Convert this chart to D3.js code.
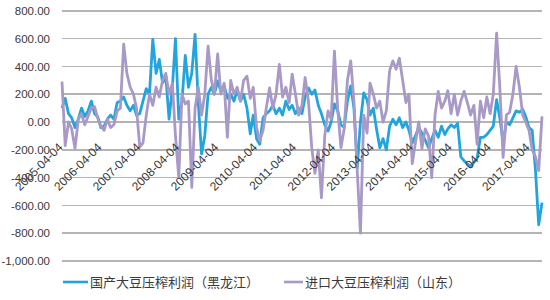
<!DOCTYPE html>
<meta charset="utf-8">
<head>
	<script src="https://d3js.org/d3.v7.min.js"></script>
	<style>
		body {
			margin: 0;
			background: #fff;
		}
		svg text {
			font-family: "Liberation Sans", Arial, "Noto Sans CJK SC", sans-serif;
		}
		.grid line {
			stroke: #b4b4b4;
			stroke-width: 1.5;
			shape-rendering: crispEdges;
		}
	</style>
</head>

<body>
	<div id="chart"></div>
</body>

<script type="text/javascript">
	// monthly points, first one at 2005-04-04
	var firstDate = "2005-04-04";

	var domestic = [
		100, 170, 60, 30, -40, 20, 100, 40, 80, 150, 60, 40,
		-40, -30, 20, 50, 20, 140, 150, 180, 120, 80, 120, 50,
		60, 150, 240, 200, 595, 350, 450, 280, 330, 20, 250, 600,
		20, 150, 480, 250, 350, 630, 140, -230, -100, 200, 250, 200,
		295, 220, 260, 170, 200, 150, 230, 150, 200, 100, -85, 50,
		-120, -160, 30, 60, 80, 120, 60, 100, 50, 150, 90, 120,
		60, 100, 60, 180, 245, 200, 230, 120, 60, -20, -65, 0,
		130, 80, -20, -40, 150, 260, 100, -330, 0, 210, 160, 50,
		100, -50, -185, -120, -200, -30, 20, -20, 30, -40, 0, -60,
		-150, -100, -40, -80, -130, -185, -120, -60, -110, -30, -90, -50,
		-20, -40, -10, -250, -280, -300, -320, -290, -260, -110, -110, -90,
		-60, -30, 160, 30, -150, 0, -20, 30, 80, 70, 90, 40,
		-40, -60, -350, -740, -580
	];

	var imported = [
		290, -170, 0, -50, -190, 20, 60, -20, 40, 100, 110, 30,
		-30, -60, 20, -40, -20, 80, 100, 560, 350, 250, 200, 100,
		-180, -150, 50, 200, 120, 250, 180, 300, 350, 200, 280, -100,
		-400, 200, 130, 150, -470, 100, 250, 50, 200, 545, 300, 200,
		490, 200, 280, -110, 300, 200, 250, 150, 300, 330, 170, 250,
		-40, -135, -60, 100, 245, 100, 200, 415, 180, 250, 140, 345,
		200, 50, 120, 320, 150, -185, -370, -200, -545, -100, 80, 20,
		510, 100, -185, -50, 300, 440, 150, -350, -800, 50, -80, 280,
		200, 100, 150, 0, 80, 370, 440, 380, 460, 300, 140, 200,
		-300, -150, 0, -190, -50, -100, -400, 50, 220, 100, 150, 225,
		60, 200, 50, 150, 220, 140, 50, 120, -160, 150, 30, 180,
		60, 200, 640, 250, -255, 50, 70, 200, 400, 250, 50, 0,
		-60, -200, -250, -350, 40
	];

	var seriesNames = ["国产大豆压榨利润（黑龙江）", "进口大豆压榨利润（山东）"];
	var seriesColors = ["#22a5dc", "#a899c7"];

	var yTicks = [-1000, -800, -600, -400, -200, 0, 200, 400, 600, 800];
	var tickDates = ["2005-04-04", "2006-04-04", "2007-04-04", "2008-04-04", "2009-04-04",
		"2010-04-04", "2011-04-04", "2012-04-04", "2013-04-04", "2014-04-04",
		"2015-04-04", "2016-04-04", "2017-04-04"];

	var width = 550,
		height = 300,
		plotLeft = 62,
		plotRight = 542,
		plotTop = 10.8,
		plotBottom = 261;

	var parse = d3.timeParse("%Y-%m-%d");
	var start = parse(firstDate);
	var dates = domestic.map(function(d, i) { return d3.timeMonth.offset(start, i); });

	var xScale = d3.scaleTime()
		.domain([dates[0], dates[dates.length - 1]])
		.range([plotLeft, plotRight]);

	var yScale = d3.scaleLinear()
		.domain([-1000, 800])
		.range([plotBottom, plotTop]);

	var fmt = d3.formatLocale({decimal: ".", thousands: ",", grouping: [3], currency: ["", ""], minus: "-"}).format(",.2f");

	var svg = d3.select("#chart").append("svg")
		.attr("width", width)
		.attr("height", height);

	// gridlines
	svg.append("g")
		.attr("class", "grid")
		.selectAll("line")
		.data(yTicks)
		.enter().append("line")
		.attr("x1", plotLeft)
		.attr("x2", plotRight)
		.attr("y1", function(d) { return yScale(d); })
		.attr("y2", function(d) { return yScale(d); });

	var yAxis = d3.axisLeft(yScale)
		.tickValues(yTicks)
		.tickFormat(fmt)
		.tickSize(0)
		.tickPadding(12);

	var yaxis_g = svg.append("g")
		.attr("transform", "translate(" + plotLeft + ",0)")
		.call(yAxis);
	yaxis_g.select(".domain").remove();
	yaxis_g.selectAll("text")
		.style("font-size", "11.5px")
		.style("fill", "#3a3a3a")
		.attr("font-family", null);

	// series lines, imported drawn on top
	var line = d3.line()
		.x(function(d, i) { return xScale(dates[i]); })
		.y(function(d) { return yScale(d); });

	[domestic, imported].forEach(function(s, k) {
		svg.append("path")
			.datum(s)
			.attr("fill", "none")
			.attr("stroke", seriesColors[k])
			.attr("stroke-width", 2.8)
			.attr("stroke-linejoin", "round")
			.attr("d", line);
	});

	// x axis labels sit on top, rotated
	var xAxis = d3.axisBottom(xScale)
		.tickValues(tickDates.map(parse))
		.tickFormat(d3.timeFormat("%Y-%m-%d"))
		.tickSize(0)
		.tickPadding(0);

	var xaxis_g = svg.append("g")
		.attr("transform", "translate(0," + yScale(0) + ")")
		.call(xAxis);
	xaxis_g.select(".domain").remove();
	xaxis_g.selectAll("text")
		.style("font-size", "12px")
		.style("fill", "#3a3a3a")
		.style("text-anchor", "end")
		.attr("y", 0)
		.attr("dy", 0)
		.attr("transform", "translate(1,26)rotate(-45)");

	// legend
	var legendX = [63, 284],
		legendLen = [25, 19];

	var legend = svg.append("g")
		.selectAll("g")
		.data(seriesNames)
		.enter().append("g")
		.attr("transform", function(d, i) { return "translate(" + legendX[i] + ",282)"; });

	legend.append("line")
		.attr("x1", 0)
		.attr("x2", function(d, i) { return legendLen[i]; })
		.attr("stroke", function(d, i) { return seriesColors[i]; })
		.attr("stroke-width", 2.6);

	legend.append("text")
		.attr("x", function(d, i) { return legendLen[i] + 2; })
		.attr("dy", "0.35em")
		.style("font-size", "13px")
		.style("font-family", "'Noto Sans CJK SC', sans-serif")
		.style("fill", "#3a3a3a")
		.text(function(d) { return d; });
</script>
